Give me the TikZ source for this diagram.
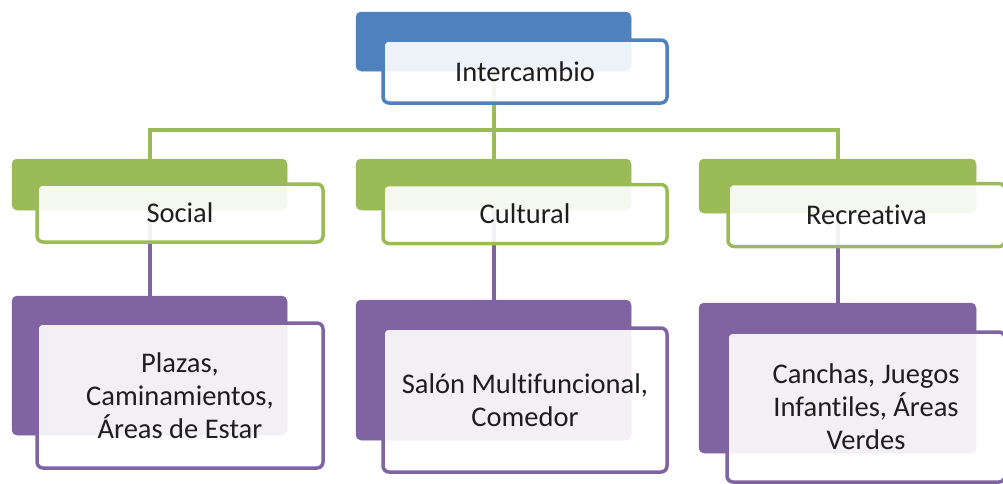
\documentclass[tikz,border=0pt]{standalone}
\usepackage{fontspec}
\setmainfont{Carlito}[Ligatures={NoCommon,NoContextual}]
\definecolor{cblue}{HTML}{4F81BD}
\definecolor{cgreen}{HTML}{9BBB59}
\definecolor{cpurple}{HTML}{8064A2}
\definecolor{ctext}{HTML}{1E1E1E}
\tikzset{
  backbox/.style={rectangle, rounded corners=5pt, inner sep=0pt, fill=#1, draw=#1, line width=0.5pt},
  frontbox/.style={rectangle, rounded corners=6pt, inner sep=0pt, draw=#1, line width=3.5pt, fill=white, fill opacity=0.9, text opacity=1, text=ctext, align=center, font=\fontsize{28.5}{33}\selectfont},
  gline/.style={draw=cgreen, line width=4pt},
  pline/.style={draw=cpurple, line width=4pt},
}
\begin{document}
\begin{tikzpicture}[x=1pt,y=-1pt]
\useasboundingbox (0,0) rectangle (1003,483);
\clip (0,0) rectangle (1003,483);
% coordinates of boxes
\coordinate (topBc) at (493.5,41.5);
\coordinate (socBc) at (149.5,184.5);
\coordinate (culBc) at (493.5,184.5);
\coordinate (recBc) at (837.5,186);
\coordinate (socPc) at (149.5,365.5);
\coordinate (culPc) at (493.5,370);
\coordinate (recPc) at (837.5,378);
\coordinate (j) at (493.5,130);
% connectors (behind)
\draw[gline] (topBc) -- (j);
\draw[gline] (socBc) |- (j) -| (recBc);
\draw[gline] (j) -- (culBc);
\draw[pline] (socBc) -- (socPc);
\draw[pline] (culBc) -- (culPc);
\draw[pline] (recBc) -- (recPc);
% back boxes
\node[backbox=cblue, minimum width=275pt, minimum height=59pt] (topB) at (topBc) {};
\node[backbox=cgreen, minimum width=275pt, minimum height=51pt] (socB) at (socBc) {};
\node[backbox=cgreen, minimum width=275pt, minimum height=51pt] (culB) at (culBc) {};
\node[backbox=cgreen, minimum width=277pt, minimum height=54pt] (recB) at (recBc) {};
\node[backbox=cpurple, minimum width=275pt, minimum height=139pt] (socP) at (socPc) {};
\node[backbox=cpurple, minimum width=275pt, minimum height=140pt] (culP) at (culPc) {};
\node[backbox=cpurple, minimum width=277pt, minimum height=150pt] (recP) at (recPc) {};
% front boxes
\node[frontbox=cblue, minimum width=284pt, minimum height=63pt] (topF) at (525,71.5) {Intercambio};
\node[frontbox=cgreen, minimum width=286pt, minimum height=58pt] (socF) at (180,213) {Social};
\node[frontbox=cgreen, minimum width=284pt, minimum height=59pt] (culF) at (525,214) {Cultural};
\node[frontbox=cgreen, minimum width=277pt, minimum height=63pt] (recF) at (866.5,215) {Recreativa};
\node[frontbox=cpurple, minimum width=286pt, minimum height=145pt] (socFP) at (180,395.5) {Plazas,\\Caminamientos,\\Áreas de Estar};
\node[frontbox=cpurple, minimum width=284pt, minimum height=144pt] (culFP) at (525,400) {Salón Multifuncional,\\Comedor};
\node[frontbox=cpurple, minimum width=278pt, minimum height=150pt] (recFP) at (866,407) {Canchas, Juegos\\Infantiles, Áreas\\Verdes};
\end{tikzpicture}
\end{document}
